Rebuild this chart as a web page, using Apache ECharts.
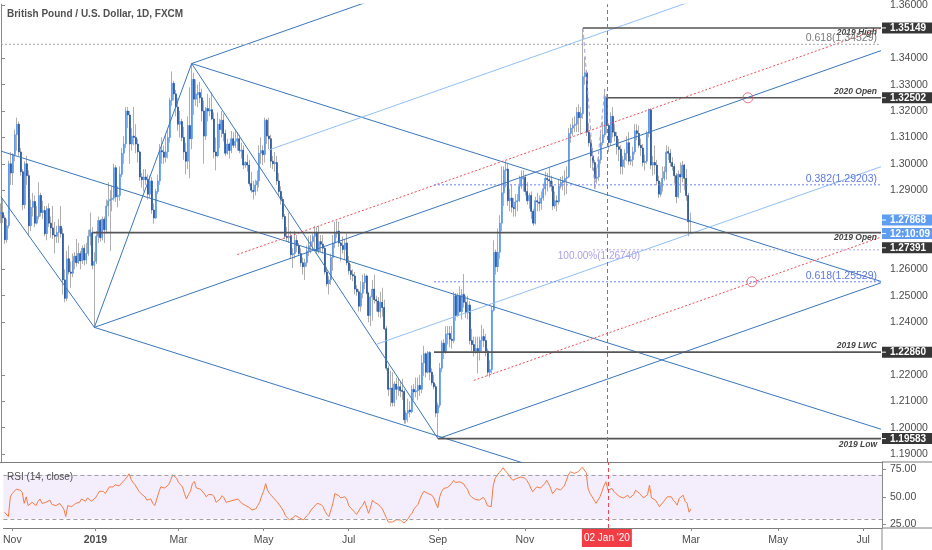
<!DOCTYPE html>
<html><head><meta charset="utf-8">
<script src="https://cdn.jsdelivr.net/npm/echarts@6/dist/echarts.min.js"></script>
<style>html,body{margin:0;padding:0;background:#fff}#c{width:932px;height:550px}</style>
</head><body><div id="c"></div>
<script>
// ---------- DATA ----------
const firstDay = '2018-10-26', lastDay = '2020-07-14';
const closedDays = ['12-25', '01-01'];
const monthNames = ['Jan','Feb','Mar','Apr','May','Jun','Jul','Aug','Sep','Oct','Nov','Dec'];
const priceTicks = [1.19,1.20,1.21,1.22,1.24,1.25,1.26,1.29,1.30,1.31,1.32,1.33,1.34,1.36];
const rsiTicks = [25, 50, 75];

// daily candles from 2018-10-26: [open, close, low, high]
const candles = [
[1.2810,1.2815,1.2775,1.2850],[1.2815,1.2795,1.2775,1.2870],[1.2795,1.2712,1.2696,1.2805],[1.2712,1.2765,1.2700,1.2790],[1.2765,1.3000,1.2755,1.3012],
[1.3000,1.2965,1.2920,1.3045],[1.2965,1.3035,1.2920,1.3040],[1.3035,1.3110,1.3010,1.3130],[1.3110,1.3150,1.3050,1.3175],[1.3150,1.3045,1.3030,1.3160],
[1.3045,1.2970,1.2955,1.3060],[1.2970,1.2845,1.2825,1.2980],[1.2845,1.3000,1.2830,1.3010],[1.3000,1.2955,1.2920,1.3030],[1.2955,1.2765,1.2725,1.2975],
[1.2765,1.2835,1.2745,1.2865],[1.2835,1.2857,1.2800,1.2890],[1.2857,1.2775,1.2760,1.2880],[1.2775,1.2800,1.2770,1.2840],[1.2800,1.2880,1.2790,1.2930],
[1.2880,1.2815,1.2800,1.2890],[1.2815,1.2823,1.2790,1.2860],[1.2823,1.2735,1.2725,1.2840],[1.2735,1.2830,1.2710,1.2840],[1.2830,1.2775,1.2760,1.2850],
[1.2775,1.2757,1.2720,1.2800],[1.2757,1.2730,1.2715,1.2840],[1.2730,1.2725,1.2660,1.2780],[1.2725,1.2740,1.2700,1.2765],[1.2740,1.2763,1.2700,1.2790],
[1.2763,1.2735,1.2720,1.2840],[1.2735,1.2560,1.2505,1.2755],[1.2560,1.2490,1.2475,1.2600],[1.2490,1.2640,1.2480,1.2670],[1.2640,1.2590,1.2580,1.2690],
[1.2590,1.2585,1.2530,1.2630],[1.2585,1.2630,1.2570,1.2660],[1.2630,1.2650,1.2600,1.2665],[1.2650,1.2625,1.2610,1.2715],[1.2625,1.2660,1.2620,1.2700],
[1.2660,1.2632,1.2600,1.2670],[1.2632,1.2680,1.2620,1.2690],[1.2680,1.2635,1.2615,1.2695],[1.2635,1.2660,1.2620,1.2700],[1.2660,1.2725,1.2650,1.2750],
[1.2725,1.2750,1.2690,1.2815],[1.2739,1.2615,1.2600,1.2760],[1.2615,1.2630,1.2380,1.2665],[1.2630,1.2725,1.2620,1.2745],[1.2725,1.2785,1.2700,1.2800],
[1.2785,1.2720,1.2705,1.2790],[1.2720,1.2790,1.2710,1.2800],[1.2790,1.2750,1.2700,1.2800],[1.2750,1.2840,1.2735,1.2865],[1.2840,1.2860,1.2800,1.2930],
[1.2860,1.2865,1.2670,1.2900],[1.2865,1.2870,1.2820,1.2915],[1.2870,1.2985,1.2860,1.3000],[1.2985,1.2875,1.2855,1.2995],[1.2875,1.2880,1.2835,1.2915],
[1.2880,1.2960,1.2860,1.2990],[1.2960,1.3040,1.2950,1.3060],[1.3040,1.3075,1.3000,1.3105],[1.3075,1.3200,1.3060,1.3215],[1.3200,1.3185,1.3135,1.3215],
[1.3185,1.3075,1.3000,1.3200],[1.3075,1.3105,1.3050,1.3135],[1.3105,1.3100,1.3070,1.3215],[1.3100,1.3075,1.3040,1.3150],[1.3075,1.3045,1.3005,1.3095],
[1.3045,1.2950,1.2935,1.3050],[1.2950,1.2940,1.2910,1.2965],[1.2940,1.2950,1.2895,1.2980],[1.2950,1.2940,1.2920,1.2980],[1.2940,1.2885,1.2865,1.2960],
[1.2885,1.2935,1.2870,1.2955],[1.2935,1.2825,1.2810,1.2950],[1.2825,1.2795,1.2773,1.2850],[1.2795,1.2895,1.2790,1.2905],[1.2895,1.2935,1.2885,1.2960],
[1.2935,1.3050,1.2920,1.3075],[1.3050,1.3045,1.3000,1.3100],[1.3045,1.3025,1.3000,1.3070],[1.3025,1.3045,1.3005,1.3110],[1.3045,1.3100,1.3020,1.3130],
[1.3100,1.3240,1.3080,1.3250],[1.3240,1.3305,1.3220,1.3350],[1.3305,1.3265,1.3240,1.3315],[1.3265,1.3215,1.3180,1.3280],[1.3215,1.3150,1.3125,1.3250],
[1.3150,1.3160,1.3100,1.3200],[1.3160,1.3100,1.3085,1.3170],[1.3100,1.3045,1.3015,1.3140],[1.3045,1.3010,1.2960,1.3080],[1.3010,1.3145,1.2980,1.3180],
[1.3145,1.3095,1.2945,1.3290],[1.3095,1.3320,1.3055,1.3380],[1.3320,1.3245,1.3185,1.3345],[1.3245,1.3265,1.3220,1.3320],[1.3262,1.3270,1.3215,1.3300],
[1.3270,1.3250,1.3230,1.3310],[1.3250,1.3200,1.3160,1.3285],[1.3200,1.3105,1.3000,1.3240],[1.3105,1.3210,1.3090,1.3215],[1.3210,1.3200,1.3160,1.3265],
[1.3200,1.3205,1.3180,1.3250],[1.3205,1.3170,1.3165,1.3270],[1.3170,1.3045,1.3020,1.3195],[1.3045,1.3030,1.2975,1.3100],[1.3030,1.3150,1.3025,1.3195],
[1.3150,1.3130,1.3060,1.3170],[1.3130,1.3165,1.3100,1.3200],[1.3165,1.3115,1.3085,1.3190],[1.3115,1.3040,1.3030,1.3130],[1.3040,1.3075,1.3035,1.3095],
[1.3075,1.3050,1.3020,1.3080],[1.3050,1.3095,1.3040,1.3125],[1.3095,1.3070,1.3060,1.3120],[1.3070,1.3085,1.3060,1.3130],[1.3085,1.3095,1.3050,1.3120],
[1.3095,1.3050,1.3040,1.3110],[1.3048,1.3052,1.3020,1.3080],[1.3052,1.2995,1.2980,1.3070],[1.2995,1.3005,1.2985,1.3010],[1.3005,1.2995,1.2970,1.3035],
[1.2995,1.2925,1.2915,1.3015],[1.2925,1.2900,1.2890,1.2970],[1.2900,1.2895,1.2865,1.2935],[1.2895,1.2920,1.2880,1.2940],[1.2920,1.2935,1.2895,1.2975],
[1.2935,1.3040,1.2910,1.3070],[1.3040,1.3050,1.3000,1.3100],[1.3050,1.3035,1.2995,1.3070],[1.3035,1.3165,1.3005,1.3175],[1.3165,1.3105,1.3075,1.3170],
[1.3105,1.3095,1.3055,1.3175],[1.3095,1.3010,1.2985,1.3110],[1.3010,1.3000,1.2980,1.3030],[1.3000,1.3005,1.2970,1.3045],[1.3005,1.2935,1.2920,1.3030],
[1.2935,1.2895,1.2880,1.2965],[1.2895,1.2865,1.2845,1.2915],[1.2865,1.2800,1.2790,1.2875],[1.2800,1.2725,1.2715,1.2810],[1.2725,1.2720,1.2705,1.2760],
[1.2720,1.2725,1.2700,1.2815],[1.2725,1.2655,1.2640,1.2745],[1.2655,1.2660,1.2605,1.2680],[1.2660,1.2710,1.2640,1.2745],[1.2710,1.2690,1.2665,1.2730],
[1.2690,1.2660,1.2650,1.2700],[1.2660,1.2625,1.2610,1.2680],[1.2625,1.2610,1.2580,1.2645],[1.2610,1.2625,1.2560,1.2640],[1.2625,1.2670,1.2610,1.2690],
[1.2670,1.2690,1.2650,1.2725],[1.2690,1.2705,1.2660,1.2730],[1.2705,1.2725,1.2675,1.2735],[1.2725,1.2740,1.2675,1.2765],[1.2740,1.2670,1.2660,1.2760],
[1.2670,1.2705,1.2660,1.2765],[1.2705,1.2695,1.2665,1.2730],[1.2695,1.2680,1.2660,1.2730],[1.2680,1.2590,1.2580,1.2685],[1.2590,1.2545,1.2535,1.2610],
[1.2545,1.2560,1.2505,1.2575],[1.2560,1.2645,1.2540,1.2660],[1.2645,1.2700,1.2595,1.2730],[1.2700,1.2735,1.2680,1.2780],[1.2735,1.2745,1.2720,1.2785],
[1.2745,1.2700,1.2685,1.2780],[1.2700,1.2690,1.2630,1.2705],[1.2690,1.2675,1.2660,1.2725],[1.2675,1.2700,1.2635,1.2715],[1.2700,1.2625,1.2615,1.2735],
[1.2625,1.2595,1.2580,1.2650],[1.2595,1.2580,1.2560,1.2620],[1.2580,1.2575,1.2555,1.2600],[1.2575,1.2525,1.2505,1.2590],[1.2525,1.2515,1.2500,1.2540],
[1.2515,1.2460,1.2440,1.2525],[1.2460,1.2510,1.2440,1.2555],[1.2510,1.2550,1.2490,1.2580],[1.2550,1.2575,1.2525,1.2585],[1.2575,1.2510,1.2505,1.2580],
[1.2510,1.2425,1.2400,1.2515],[1.2425,1.2495,1.2385,1.2500],[1.2495,1.2525,1.2405,1.2560],[1.2525,1.2485,1.2470,1.2580],[1.2485,1.2480,1.2440,1.2500],
[1.2480,1.2440,1.2420,1.2495],[1.2440,1.2475,1.2415,1.2515],[1.2475,1.2455,1.2420,1.2530],[1.2455,1.2375,1.2370,1.2485],[1.2375,1.2225,1.2215,1.2385],
[1.2225,1.2145,1.2120,1.2235],[1.2145,1.2150,1.2080,1.2215],[1.2150,1.2095,1.2080,1.2210],[1.2095,1.2165,1.2080,1.2175],[1.2165,1.2145,1.2105,1.2190],
[1.2145,1.2155,1.2120,1.2185],[1.2155,1.2140,1.2115,1.2175],[1.2142,1.2137,1.2105,1.2185],[1.2137,1.2030,1.2015,1.2145],[1.2030,1.2055,1.2015,1.2065],
[1.2055,1.2065,1.2020,1.2110],[1.2067,1.2060,1.2040,1.2100],[1.2060,1.2145,1.2055,1.2160],[1.2145,1.2135,1.2105,1.2165],[1.2135,1.2140,1.2115,1.2190],
[1.2140,1.2160,1.2105,1.2190],[1.2160,1.2145,1.2120,1.2200],[1.2145,1.2245,1.2130,1.2275],[1.2245,1.2280,1.2195,1.2310],[1.2280,1.2210,1.2190,1.2285],
[1.2210,1.2285,1.2205,1.2290],[1.2285,1.2210,1.2180,1.2290],[1.2210,1.2170,1.2160,1.2225],[1.2170,1.2155,1.2145,1.2200],[1.2155,1.2055,1.2040,1.2165],
[1.2055,1.2085,1.1958,1.2095],[1.2085,1.2225,1.2075,1.2245],[1.2225,1.2320,1.2210,1.2330],[1.2320,1.2285,1.2260,1.2335],[1.2285,1.2355,1.2280,1.2385],
[1.2352,1.2357,1.2315,1.2385],[1.2357,1.2335,1.2305,1.2385],[1.2335,1.2330,1.2300,1.2385],[1.2330,1.2500,1.2320,1.2515],[1.2500,1.2425,1.2405,1.2510],
[1.2425,1.2500,1.2420,1.2510],[1.2500,1.2440,1.2435,1.2535],[1.2440,1.2505,1.2410,1.2525],[1.2505,1.2475,1.2455,1.2582],[1.2475,1.2435,1.2415,1.2500],
[1.2435,1.2465,1.2410,1.2500],[1.2465,1.2330,1.2315,1.2480],[1.2330,1.2315,1.2290,1.2375],[1.2315,1.2290,1.2270,1.2345],[1.2290,1.2300,1.2280,1.2345],
[1.2300,1.2290,1.2205,1.2345],[1.2290,1.2330,1.2255,1.2345],[1.2330,1.2345,1.2290,1.2390],[1.2345,1.2330,1.2305,1.2375],[1.2330,1.2290,1.2270,1.2355],
[1.2290,1.2210,1.2195,1.2300],[1.2210,1.2220,1.2190,1.2255],[1.2220,1.2445,1.2205,1.2460],[1.2445,1.2665,1.2440,1.2710],[1.2665,1.2610,1.2580,1.2675],
[1.2610,1.2665,1.2590,1.2755],[1.2665,1.2775,1.2640,1.2805],[1.2775,1.2890,1.2745,1.2990],[1.2890,1.2975,1.2840,1.2990],[1.2975,1.2980,1.2910,1.3012],
[1.2980,1.2860,1.2840,1.3000],[1.2860,1.2870,1.2820,1.2905],[1.2870,1.2835,1.2815,1.2920],[1.2835,1.2830,1.2800,1.2870],[1.2830,1.2855,1.2800,1.2885],
[1.2855,1.2860,1.2820,1.2885],[1.2860,1.2915,1.2855,1.2955],[1.2915,1.2945,1.2905,1.2975],[1.2942,1.2948,1.2895,1.2975],[1.2948,1.2895,1.2880,1.2960],
[1.2895,1.2860,1.2845,1.2930],[1.2860,1.2880,1.2830,1.2890],[1.2880,1.2820,1.2790,1.2895],[1.2820,1.2775,1.2765,1.2830],[1.2775,1.2860,1.2770,1.2875],
[1.2860,1.2855,1.2820,1.2890],[1.2855,1.2850,1.2820,1.2880],[1.2850,1.2870,1.2825,1.2895],[1.2870,1.2905,1.2860,1.2925],[1.2905,1.2945,1.2880,1.2970],
[1.2945,1.2940,1.2895,1.2965],[1.2940,1.2935,1.2910,1.2985],[1.2935,1.2915,1.2895,1.2955],[1.2915,1.2840,1.2825,1.2935],[1.2840,1.2860,1.2830,1.2895],
[1.2860,1.2855,1.2820,1.2880],[1.2855,1.2915,1.2845,1.2940],[1.2915,1.2930,1.2905,1.2950],[1.2928,1.2935,1.2900,1.2955],[1.2935,1.2945,1.2880,1.2975],
[1.2945,1.2950,1.2885,1.2990],[1.2950,1.3115,1.2945,1.3135],[1.3115,1.3135,1.3080,1.3150],[1.3135,1.3145,1.3105,1.3175],[1.3145,1.3150,1.3120,1.3180],
[1.3150,1.3195,1.3120,1.3215],[1.3195,1.3175,1.3120,1.3225],[1.3175,1.3190,1.3110,1.3215],[1.3190,1.3330,1.3170,1.3514],[1.3330,1.3345,1.3300,1.3405],
[1.3345,1.3120,1.3105,1.3355],[1.3120,1.3080,1.3065,1.3155],[1.3080,1.3030,1.2985,1.3110],[1.3030,1.3005,1.2975,1.3060],[1.3005,1.2945,1.2905,1.3015],
[1.2945,1.2950,1.2925,1.2985],[1.2950,1.3015,1.2935,1.3030],[1.3015,1.3080,1.3000,1.3115],[1.3080,1.3110,1.3070,1.3160],[1.3110,1.3255,1.3100,1.3284],
[1.3250,1.3145,1.3115,1.3265],[1.3145,1.3080,1.3045,1.3150],[1.3080,1.3180,1.3070,1.3195],[1.3180,1.3120,1.3100,1.3215],[1.3120,1.3105,1.3085,1.3150],
[1.3105,1.3065,1.3035,1.3120],[1.3065,1.3055,1.3010,1.3095],[1.3055,1.2990,1.2960,1.3070],[1.2990,1.3015,1.2960,1.3030],[1.3015,1.3040,1.2985,1.3055],
[1.3040,1.3080,1.3010,1.3105],[1.3080,1.3010,1.2995,1.3120],[1.3010,1.3015,1.2995,1.3030],[1.3015,1.3045,1.2990,1.3065],[1.3045,1.3125,1.3035,1.3150],
[1.3125,1.3115,1.3090,1.3150],[1.3115,1.3070,1.3060,1.3145],[1.3070,1.3060,1.3030,1.3095],[1.3060,1.3005,1.2990,1.3075],[1.3005,1.3010,1.2975,1.3035],
[1.3010,1.3115,1.3000,1.3125],[1.3115,1.3205,1.3100,1.3210],[1.3205,1.2995,1.2980,1.3210],[1.2995,1.3005,1.2955,1.3030],[1.3005,1.2995,1.2960,1.3070],
[1.2995,1.2935,1.2920,1.3015],[1.2935,1.2885,1.2870,1.2955],[1.2885,1.2915,1.2875,1.2930],[1.2915,1.2945,1.2895,1.2990],[1.2945,1.2970,1.2935,1.2990],
[1.2970,1.3045,1.2940,1.3070],[1.3047,1.3040,1.3015,1.3065],[1.3040,1.3005,1.2990,1.3055],[1.3005,1.2990,1.2975,1.3025],[1.2990,1.2955,1.2925,1.3000],
[1.2955,1.2875,1.2850,1.2965],[1.2875,1.2960,1.2870,1.2975],[1.2960,1.2950,1.2890,1.3005],[1.2950,1.2995,1.2930,1.3010],[1.2995,1.2945,1.2900,1.3000],
[1.2945,1.2880,1.2860,1.2980],[1.2880,1.2780,1.2725,1.2890],[1.2780,1.27868,1.2740,1.2815]
];

// RSI(14, close), one value per candle
const rsi = [
36,35,32,50,53,55,57,58,56,54, 44,50,42,43,45,44,42,46,48,44, 44,45,46,47,43,42,42,43,44,45, 39,32,42,42,41,41,44,45,45,48,
48,46,49,50,46,45,49,52,55,56, 55,53,56,59,59,59,61,62,60,62, 64,66,68,71,66,63,61,58,55,53, 52,50,47,48,48,44,42,48,54,59,
58,58,59,61,65,70,71,67,63,61, 59,53,48,52,55,62,64,58,57,57, 56,53,50,52,53,52,50,45,46,48, 51,49,45,45,46,47,47,48,48,47,
44,43,42,41,40,38,37,39,42,45, 51,55,62,56,53,51,49,47,45,44, 40,37,33,31,29,28,31,33,32,31, 30,29,28,33,35,38,40,41,44,45,
43,41,37,34,32,38,44,53,52,51, 49,48,50,48,42,40,38,36,34,33, 40,42,46,47,35,40,47,45,44,43, 41,39,35,31,27,27,27,28,29,30,
29,28,26,27,30,33,35,39,41,43, 48,52,55,56,53,54,51.5,49,44,40, 50,55,57.6,58,58.5,59,62,65,63,62, 63.7,63,62,59,57,52,50,48.5,47.5,47,
47,48.5,49.5,47,42,40.8,41,60,67,68, 72,74,76.5,74,73,70,67,65,66,66.8, 67,68,68.3,67,65,62,58,54.6,57,59, 57.6,58,59,62,65,62,58,53,55,57.6,
57,56.1,58,60,60.7,70,72.8,72,71.3,72, 72.9,72,77,77.4,72,57,53,50,47,44, 45,50,55,60,63.7,56,55,57.6,55,53, 51.5,50,48.5,49,50,51.5,49,48.5,52,56,
55,53,51.5,49,48.5,52,60.6,49,48.5,47, 44,41,42,45.4,47,50,51.5,50,47,45, 42.4,48.5,50,51.5,46,44,36,39
];

// horizontal levels: name, start date, price
const levelNames  = ['2019 High', '2020 Open', '2019 Open', '2019 LWC', '2019 Low'];
const levelStarts = ['2019-12-13', '2020-01-02', '2019-01-02', '2019-08-30', '2019-09-03'];
const levelPrices = [1.35149, 1.32502, 1.27391, 1.22860, 1.19583];

// fibonacci levels
const fibNames  = ['0.618', '0.382', '0.618', '100.00%'];
const fibStarts = ['2018-10-26', '2019-08-30', '2019-08-30', '2019-12-20'];
const fibPrices = [1.34529, 1.29203, 1.25529, 1.26740];

// trend lines as [date, price] pairs
const pitchforkLines = [
  [['2018-10-26', 1.2875], ['2019-01-03', 1.2380]],
  [['2018-10-26', 1.3048], ['2020-07-14', 1.1994]],
  [['2019-03-13', 1.3380], ['2020-07-14', 1.2554]],
  [['2019-01-03', 1.2380], ['2019-12-31', 1.1768]],
  [['2019-01-03', 1.2380], ['2019-03-13', 1.3380]],
  [['2019-03-13', 1.3380], ['2019-09-03', 1.1958]],
  [['2019-03-13', 1.3380], ['2019-08-01', 1.3647]],
  [['2019-01-03', 1.2380], ['2020-07-14', 1.3429]],
  [['2019-09-03', 1.1958], ['2020-07-14', 1.2549]]
];
const lightLines = [
  [['2019-05-07', 1.3053], ['2020-03-19', 1.3649]],
  [['2019-07-22', 1.2316], ['2020-07-14', 1.2989]]
];
const redDottedLines = [
  [['2019-04-15', 1.2656], ['2020-07-14', 1.3514]],
  [['2019-09-27', 1.2179], ['2020-07-14', 1.2722]]
];
const fibTrendPoints = [['2019-12-13', 1.35149], ['2019-12-23', 1.2905], ['2019-12-31', 1.3284]];
const circlePoints = [['2020-04-10', 1.32502], ['2020-04-14', 1.25529]];
const crosshairDate = '2020-01-02';
const crosshairLabel = "02 Jan '20";
const countdown = '12:10:09';
const title = 'British Pound / U.S. Dollar, 1D, FXCM';
const rsiTitle = 'RSI (14, close)';

// ---------- BUILD ----------
const FONT = '"Liberation Sans", Arial, sans-serif';
const dates = [];
(function () {
  let t = Date.parse(firstDay + 'T00:00:00Z');
  const end = Date.parse(lastDay + 'T00:00:00Z');
  while (t <= end) {
    const d = new Date(t), wd = d.getUTCDay(), s = d.toISOString().slice(0, 10);
    if (wd !== 0 && wd !== 6 && closedDays.indexOf(s.slice(5)) < 0) dates.push(s);
    t += 86400000;
  }
})();
const toIdx = d => dates.indexOf(d);
const labelAt = {};
dates.forEach((s, i) => {
  if (i > 0 && s.slice(5, 7) !== dates[i - 1].slice(5, 7)) {
    const m = +s.slice(5, 7) - 1;
    if (m % 2 === 0) labelAt[i] = m === 0 ? s.slice(0, 4) : monthNames[m];
  }
});
const showLabel = i => labelAt[i] !== undefined;

const UP = '#5195ee', DOWN = '#174b9c', WICK = '#9a9a9a';
const bodies = candles.map(c => [c[0], c[1], Math.min(c[0], c[1]), Math.max(c[0], c[1])]);

function lineSeries(pts, color, width, type, z) {
  return {
    type: 'line', xAxisIndex: 2, yAxisIndex: 0, data: pts.map(p => [toIdx(p[0]), p[1]]),
    symbol: 'none', clip: true, silent: true, animation: false, z: z || 3,
    lineStyle: { color: color, width: width, type: type || 'solid' }
  };
}

const series = [
  { type: 'candlestick', xAxisIndex: 0, yAxisIndex: 0, data: candles, barWidth: 0.2, silent: true,
    itemStyle: { color: WICK, color0: WICK, borderColor: WICK, borderColor0: WICK, borderWidth: 0.8 },
    markLine: { silent: true, symbol: 'none', animation: false, label: { show: false },
      lineStyle: { color: '#f0474f', width: 1, type: [4, 3] }, data: [{ xAxis: crosshairDate }] } },
  { type: 'candlestick', xAxisIndex: 0, yAxisIndex: 0, data: bodies, barWidth: 1.5, silent: true,
    itemStyle: { color: UP, color0: DOWN, borderColor: UP, borderColor0: DOWN, borderWidth: 0.6 } }
];
pitchforkLines.forEach(l => series.push(lineSeries(l, '#3a76bd', 1)));
lightLines.forEach(l => series.push(lineSeries(l, '#92bff3', 1)));
redDottedLines.forEach(l => series.push(lineSeries(l, '#ef4e58', 1, [2, 2])));
series.push(lineSeries(fibTrendPoints, '#a79ce8', 1, [4, 3]));
fibNames.forEach((n, i) => {
  const col = i === 0 ? '#a3a3a3' : (i === 3 ? '#b3a9ee' : '#6e82e6');
  series.push(lineSeries([[fibStarts[i], fibPrices[i]], [lastDay, fibPrices[i]]], col, 1, [2, 2]));
});
levelNames.forEach((n, i) => {
  series.push(lineSeries([[levelStarts[i], levelPrices[i]], [lastDay, levelPrices[i]]], '#555555', 1.6, 'solid', 4));
});
series.push({
  type: 'scatter', xAxisIndex: 2, yAxisIndex: 0, silent: true, animation: false, z: 5,
  data: circlePoints.map(p => [toIdx(p[0]), p[1]]), symbol: 'circle', symbolSize: 10,
  itemStyle: { color: 'rgba(0,0,0,0)', borderColor: '#e2566a', borderWidth: 1 }
});
series.push({
  type: 'line', xAxisIndex: 1, yAxisIndex: 1, data: rsi, symbol: 'none', silent: true, animation: false,
  lineStyle: { color: '#f77d45', width: 1 }, z: 3,
  markArea: { silent: true, itemStyle: { color: 'rgba(150,90,230,0.11)' }, data: [[{ yAxis: 30 }, { yAxis: 70 }]] },
  markLine: { silent: true, symbol: 'none', animation: false, label: { show: false },
    lineStyle: { color: '#a0a0a0', width: 1, type: [4, 3] },
    data: [{ yAxis: 70 }, { yAxis: 30 }, { xAxis: crosshairDate, lineStyle: { color: '#f0474f', type: [4, 3] } }] }
});

const axisCol = '#8a8a8a', labCol = '#4d4d4d';
const option = {
  animation: false,
  backgroundColor: '#ffffff',
  textStyle: { fontFamily: FONT },
  grid: [
    { left: 0, top: 0, width: 882, height: 462 },
    { left: 0, top: 462, width: 882, height: 66 }
  ],
  xAxis: [
    { type: 'category', gridIndex: 0, data: dates, boundaryGap: true,
      axisLine: { show: true, lineStyle: { color: '#7d7d7d' } }, axisTick: { show: false }, axisLabel: { show: false }, splitLine: { show: false } },
    { type: 'category', gridIndex: 1, data: dates, boundaryGap: true,
      axisLine: { show: true, lineStyle: { color: '#7d7d7d' } },
      axisTick: { show: true, alignWithLabel: true, interval: showLabel, length: 3, lineStyle: { color: axisCol } },
      axisLabel: { interval: showLabel, margin: 7, color: labCol, fontSize: 10.5, fontFamily: FONT,
        formatter: (v, i) => /^\d{4}$/.test(labelAt[i]) ? '{y|' + labelAt[i] + '}' : labelAt[i],
        rich: { y: { fontWeight: 'bold', fontSize: 10.5, color: labCol, fontFamily: FONT } } },
      splitLine: { show: false } },
    { type: 'value', gridIndex: 0, position: 'top', min: -0.5, max: dates.length - 0.5, show: false }
  ],
  yAxis: [
    { type: 'value', gridIndex: 0, position: 'right', min: 1.18697, max: 1.36046, scale: true,
      splitLine: { show: false },
      axisLine: { show: true, lineStyle: { color: axisCol } },
      axisTick: { show: true, customValues: priceTicks, length: 4, lineStyle: { color: axisCol } },
      axisLabel: { customValues: priceTicks, formatter: v => v.toFixed(5), color: labCol, fontSize: 10.5, margin: 8, fontFamily: FONT } },
    { type: 'value', gridIndex: 1, position: 'right', min: 21.6, max: 81.7,
      splitLine: { show: false },
      axisLine: { show: true, lineStyle: { color: axisCol } },
      axisTick: { show: true, customValues: rsiTicks, length: 4, lineStyle: { color: axisCol } },
      axisLabel: { customValues: rsiTicks, formatter: v => v.toFixed(2), color: labCol, fontSize: 10.5, margin: 8, fontFamily: FONT } }
  ],
  series: series
};

const chart = echarts.init(document.getElementById('c'), null, { renderer: 'canvas' });
chart.setOption(option);

// ---------- annotations placed through the chart's own scales ----------
const py = p => chart.convertToPixel({ yAxisIndex: 0 }, p);
const px = d => chart.convertToPixel({ xAxisIndex: 0 }, toIdx(d));
const g = [];
function txt(x, y, text, st) {
  g.push({ type: 'text', x: x, y: y, z: 100, silent: true,
    style: Object.assign({ text: text, fontFamily: FONT, fontSize: 10.5, fill: '#555', align: 'left', verticalAlign: 'middle' }, st || {}) });
}
function box(yc, text, fill) {
  g.push({ type: 'rect', z: 100, silent: true, shape: { x: 882, y: yc - 5.5, width: 50, height: 11 }, style: { fill: fill } });
  g.push({ type: 'line', z: 101, silent: true, shape: { x1: 882, y1: yc, x2: 886, y2: yc }, style: { stroke: '#ffffff', lineWidth: 1 } });
  txt(890, yc + 0.5, text, { fill: '#ffffff', fontWeight: 'bold', fontSize: 10 });
}
txt(7, 14, title, { fontWeight: 'bold', fontSize: 10, fill: '#505050' });
txt(7, 477, rsiTitle, { fontSize: 10, fill: '#505050' });

const levelDy = [5, -6.5, 5.5, -6.5, 6];
levelNames.forEach((n, i) => txt(877, py(levelPrices[i]) + levelDy[i], n,
  { align: 'right', fontStyle: 'italic', fontWeight: 'bold', fontSize: 8.5, fill: '#444' }));
fibNames.forEach((n, i) => {
  const t = n + '(' + fibPrices[i].toFixed(5) + ')';
  if (i === 3) txt(px('2019-12-26'), py(fibPrices[i]) + 6.5, t, { align: 'center', fill: '#aaa0ec', fontSize: 10 });
  else txt(877, py(fibPrices[i]) - 6, t, { align: 'right', fill: i === 0 ? '#7a7a7a' : '#5f78e2', fontSize: 10.5 });
});

const last = candles[candles.length - 1][1];
box(py(levelPrices[0]), levelPrices[0].toFixed(5), '#363636');
box(py(levelPrices[1]), levelPrices[1].toFixed(5), '#363636');
box(py(last), last.toFixed(5), '#5f9df2');
box(py(last) + 13.5, countdown, '#5f9df2');
box(py(levelPrices[2]) + 15.2, levelPrices[2].toFixed(5), '#363636');
box(py(levelPrices[3]), levelPrices[3].toFixed(5), '#363636');
box(py(levelPrices[4]), levelPrices[4].toFixed(5), '#363636');

const cx = px(crosshairDate);
g.push({ type: 'rect', z: 100, silent: true, shape: { x: cx - 25, y: 529, width: 50, height: 18 }, style: { fill: '#f23d45' } });
txt(cx, 538.5, crosshairLabel, { align: 'center', fill: '#ffffff', fontSize: 10 });

g.push({ type: 'line', z: 90, silent: true, shape: { x1: 882, y1: 462, x2: 932, y2: 462 }, style: { stroke: '#7d7d7d', lineWidth: 1 } });
g.push({ type: 'line', z: 90, silent: true, shape: { x1: 882, y1: 528, x2: 932, y2: 528 }, style: { stroke: '#7d7d7d', lineWidth: 1 } });
g.push({ type: 'line', z: 90, silent: true, shape: { x1: 882, y1: 528, x2: 882, y2: 550 }, style: { stroke: axisCol, lineWidth: 1 } });
chart.setOption({ graphic: g });
</script>
</body></html>
